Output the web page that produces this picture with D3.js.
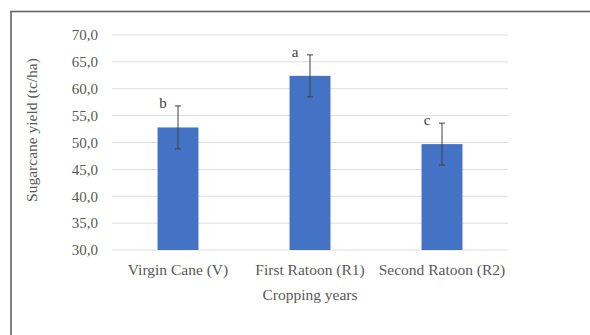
<!DOCTYPE html>
<html>
<head>
<meta charset="utf-8">
<script src="https://cdn.jsdelivr.net/npm/d3@7"></script>
<style>
  body { margin: 0; background: #fff; }
  svg { display: block; }
</style>
</head>
<body>
<div id="graph_field"></div>
<script>
// data
let categories = ["Virgin Cane (V)", "First Ratoon (R1)", "Second Ratoon (R2)"];
let yieldValues = [52.8, 62.4, 49.7];
let errorValues = [4.0, 3.9, 3.9];
let letters = ["b", "a", "c"];
let yTicks = [30, 35, 40, 45, 50, 55, 60, 65, 70];

let margin = {top: 35, right: 82, bottom: 85, left: 112};
let width = 590 - margin.left - margin.right;
let height = 335 - margin.top - margin.bottom;

let svg = d3.select("#graph_field")
    .append("svg")
    .attr("width", 590)
    .attr("height", 335)
    .style("font-family", "'Liberation Serif', 'Times New Roman', serif");

// outer frame (runs off the right and bottom edge)
svg.append("rect")
    .attr("x", 11)
    .attr("y", 11.5)
    .attr("width", 620)
    .attr("height", 400)
    .attr("fill", "none")
    .attr("stroke", "#666")
    .attr("stroke-width", 1.6);

let g = svg.append("g")
    .attr("transform", "translate(" + margin.left + "," + margin.top + ")");

let x = d3.scaleBand()
    .domain(categories)
    .range([0, width])
    .paddingInner(0.69)
    .paddingOuter(0.345);

let y = d3.scaleLinear()
    .domain([30, 70])
    .range([height, 0]);

// gridlines
g.selectAll(".grid")
    .data(yTicks)
    .enter().append("line")
    .attr("x1", 0)
    .attr("x2", width)
    .attr("y1", d => y(d))
    .attr("y2", d => y(d))
    .attr("stroke", "#dcdcdc")
    .attr("stroke-width", 1);

// y axis labels
let yAxis = d3.axisLeft(y)
    .tickValues(yTicks)
    .tickSize(0)
    .tickPadding(14)
    .tickFormat(d => d3.format(".1f")(d).replace(".", ","));

g.append("g")
    .call(yAxis)
    .call(s => s.select(".domain").remove())
    .selectAll("text")
    .attr("fill", "#595959")
    .style("font-size", "15px")
    .style("font-family", "'Liberation Serif', serif");

// x axis labels
let xAxis = d3.axisBottom(x).tickSize(0).tickPadding(14);
g.append("g")
    .attr("transform", "translate(0," + height + ")")
    .call(xAxis)
    .call(s => s.select(".domain").remove())
    .selectAll("text")
    .attr("fill", "#595959")
    .style("font-size", "15.5px")
    .style("font-family", "'Liberation Serif', serif");

// bars
g.selectAll(".bar")
    .data(categories)
    .enter().append("rect")
    .attr("x", d => x(d))
    .attr("y", (d, i) => y(yieldValues[i]))
    .attr("width", x.bandwidth())
    .attr("height", (d, i) => height - y(yieldValues[i]))
    .attr("fill", "#4472c4");

// error bars
let cap = 3;
categories.forEach((c, i) => {
    let cx = x(c) + x.bandwidth() / 2;
    let top = y(yieldValues[i] + errorValues[i]);
    let bot = y(yieldValues[i] - errorValues[i]);
    g.append("line")
        .attr("x1", cx).attr("x2", cx)
        .attr("y1", top).attr("y2", bot)
        .attr("stroke", "#404040").attr("stroke-width", 1);
    g.append("line")
        .attr("x1", cx - cap).attr("x2", cx + cap)
        .attr("y1", top).attr("y2", top)
        .attr("stroke", "#404040").attr("stroke-width", 1);
    g.append("line")
        .attr("x1", cx - cap).attr("x2", cx + cap)
        .attr("y1", bot).attr("y2", bot)
        .attr("stroke", "#404040").attr("stroke-width", 1);
    // significance letter
    g.append("text")
        .attr("x", cx - 15)
        .attr("y", top + 2)
        .attr("text-anchor", "middle")
        .attr("fill", "#404040")
        .style("font-size", "15px")
        .text(letters[i]);
});

// axis titles
g.append("text")
    .attr("x", width / 2)
    .attr("y", height + 50)
    .attr("text-anchor", "middle")
    .attr("fill", "#595959")
    .style("font-size", "15.5px")
    .text("Cropping years");

svg.append("text")
    .attr("transform", "translate(37," + 130 + ") rotate(-90)")
    .attr("text-anchor", "middle")
    .attr("fill", "#595959")
    .style("font-size", "15.5px")
    .text("Sugarcane yield (tc/ha)");
</script>
</body>
</html>
